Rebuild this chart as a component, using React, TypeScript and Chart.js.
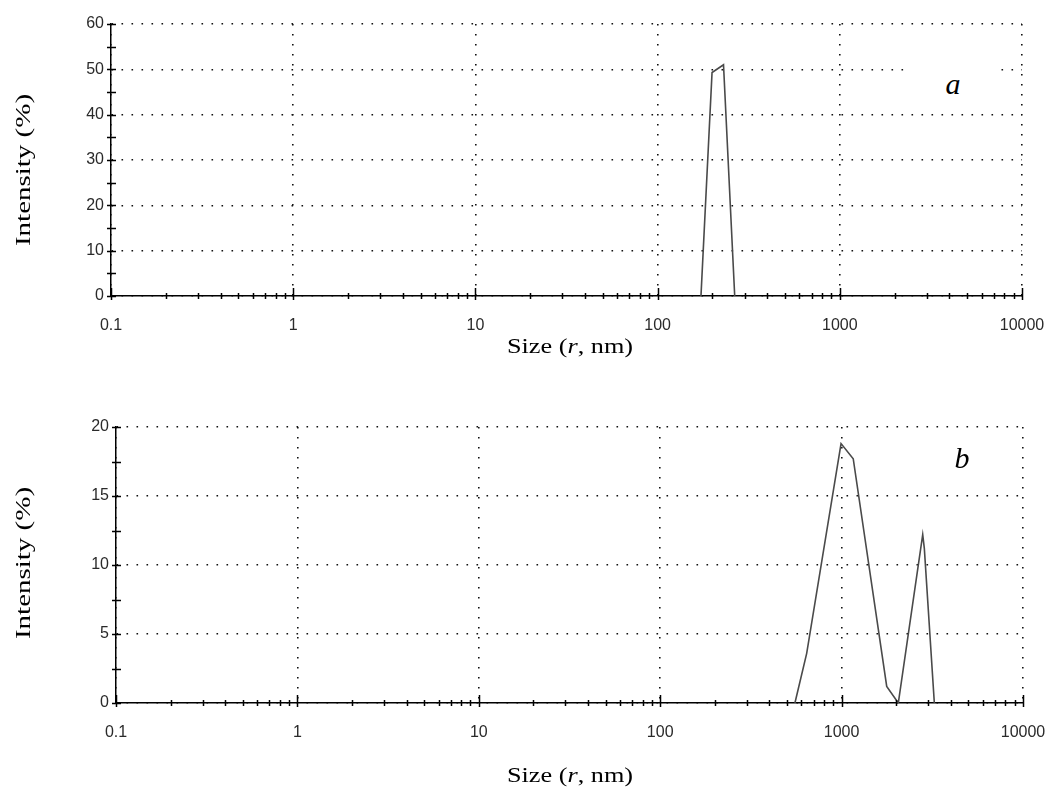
import React, { useEffect, useRef } from 'react';
import { Chart, registerables } from 'chart.js';

Chart.register(...registerables);

// ---- data ----
const sizeA = [173, 199, 230, 265];
const intensityA = [0, 49.3, 51, 0];

const sizeB = [553, 642, 993, 1159, 1773, 2054, 2800, 2858, 3245];
const intensityB = [0, 3.6, 18.8, 17.7, 1.2, 0, 12.2, 11.2, 0];

const decades = [0.1, 1, 10, 100, 1000, 10000];
const decadeLabels = ['0.1', '1', '10', '100', '1000', '10000'];
const mantissas = [1, 2, 3, 4, 5, 6, 7, 8, 9];

const yTicksA = [0, 5, 10, 15, 20, 25, 30, 35, 40, 45, 50, 55, 60];
const yLabelStepA = 10;
const yTicksB = [0, 2.5, 5, 7.5, 10, 12.5, 15, 17.5, 20];
const yLabelStepB = 5;

const xTitle = 'Size';
const yTitle = 'Intensity (%)';

// ---- helpers ----
const xTickValues: number[] = [];
decades.forEach((d, i) => {
  if (i === decades.length - 1) {
    xTickValues.push(d);
  } else {
    mantissas.forEach((m) => xTickValues.push(+(d * m).toPrecision(6)));
  }
});

const isDecade = (v: number) => {
  if (v === undefined || v === null) return false;
  const l = Math.log10(v);
  return Math.abs(l - Math.round(l)) < 1e-6;
};
const decadeLabel = (v: number) => {
  const idx = decades.findIndex((d) => Math.abs(Math.log10(d) - Math.log10(v)) < 1e-6);
  return idx >= 0 ? decadeLabels[idx] : '';
};

const tickFont = {
  family: "'Liberation Sans', Arial, sans-serif",
  size: 16,
};
const tickColor = '#2a2a2a';

const tickMarks = {
  id: 'tickMarks',
  afterDraw(chart: any) {
    const { ctx, chartArea } = chart;
    const x = chart.scales.x;
    const y = chart.scales.y;
    ctx.save();
    ctx.strokeStyle = '#000';
    ctx.lineWidth = 1.5;
    ctx.beginPath();
    x.ticks.forEach((t: any) => {
      const px = Math.round(x.getPixelForValue(t.value)) + 0.5;
      const maj = isDecade(t.value);
      ctx.moveTo(px, chartArea.bottom - (maj ? 8 : 3));
      ctx.lineTo(px, chartArea.bottom + (maj ? 4 : 3));
    });
    y.ticks.forEach((t: any) => {
      const py = Math.round(y.getPixelForValue(t.value)) + 0.5;
      ctx.moveTo(chartArea.left - 4, py);
      ctx.lineTo(chartArea.left + 5, py);
    });
    ctx.stroke();
    ctx.restore();
  },
};

type Area = { H: number; left: number; right: number; top: number; bottom: number };

function makeChart(
  canvas: HTMLCanvasElement,
  xs: number[],
  ys: number[],
  yTicks: number[],
  yLabelStep: number,
  area: Area
) {
  const yMax = yTicks[yTicks.length - 1];
  return new Chart(canvas, {
    type: 'line',
    data: {
      datasets: [
        {
          data: xs.map((x, i) => ({ x, y: ys[i] })),
          borderColor: '#4a4a4a',
          borderWidth: 1.6,
          pointRadius: 0,
          tension: 0,
          fill: false,
        },
      ],
    },
    options: {
      animation: false,
      responsive: false,
      maintainAspectRatio: false,
      layout: { padding: { top: area.top, right: 1048 - area.right, left: 0, bottom: 0 } },
      plugins: { legend: { display: false }, tooltip: { enabled: false }, title: { display: false } },
      scales: {
        x: {
          type: 'logarithmic',
          min: 0.1,
          max: 10000,
          position: 'bottom',
          afterBuildTicks: (s: any) => {
            s.ticks = xTickValues.map((v) => ({ value: v, major: isDecade(v) }));
          },
          afterFit: (s: any) => {
            s.height = area.H - area.bottom;
            s.paddingLeft = 0;
            s.paddingRight = 0;
          },
          ticks: {
            autoSkip: false,
            maxRotation: 0,
            minRotation: 0,
            padding: 20,
            color: tickColor,
            font: tickFont,
            callback: (v: any) => (isDecade(Number(v)) ? decadeLabel(Number(v)) : ''),
          },
          grid: {
            color: (ctx: any) => (ctx.tick && isDecade(ctx.tick.value) ? '#111' : 'rgba(0,0,0,0)'),
            lineWidth: 1.6,
            drawTicks: false,
          },
          border: { display: true, color: '#000', width: 1.5, dash: [1.6, 8.4] },
        },
        y: {
          type: 'linear',
          min: 0,
          max: yMax,
          afterBuildTicks: (s: any) => {
            s.ticks = yTicks.map((v) => ({ value: v }));
          },
          afterFit: (s: any) => {
            s.width = area.left;
            s.paddingTop = 0;
            s.paddingBottom = 0;
          },
          ticks: {
            autoSkip: false,
            padding: 7,
            color: tickColor,
            font: tickFont,
            callback: (v: any) => (Number(v) % yLabelStep === 0 ? String(v) : ''),
          },
          grid: {
            color: (ctx: any) =>
              ctx.tick && ctx.tick.value % yLabelStep === 0 ? '#111' : 'rgba(0,0,0,0)',
            lineWidth: 1.6,
            drawTicks: false,
          },
          border: { display: true, color: '#000', width: 1.5, dash: [1.6, 8.4] },
        },
      },
    } as any,
    plugins: [tickMarks],
  });
}

const areaA: Area = { H: 390, left: 111, right: 1022, top: 24, bottom: 296 };
const areaB: Area = { H: 397, left: 116, right: 1023, top: 37, bottom: 313 };

const serif = "'Liberation Serif', 'Times New Roman', serif";

function YTitle({ cx, cy }: { cx: number; cy: number }) {
  return (
    <div
      style={{
        position: 'absolute',
        left: cx,
        top: cy,
        transform: 'translate(-50%, -50%) rotate(-90deg) scaleX(1.38)',
        fontFamily: serif,
        fontSize: 21,
        lineHeight: 1,
        whiteSpace: 'nowrap',
        color: '#000',
      }}
    >
      {yTitle}
    </div>
  );
}

function XTitle({ cx, cy }: { cx: number; cy: number }) {
  return (
    <div
      style={{
        position: 'absolute',
        left: cx,
        top: cy,
        transform: 'translate(-50%, -50%) scaleX(1.25)',
        fontFamily: serif,
        fontSize: 21,
        lineHeight: 1,
        whiteSpace: 'nowrap',
        color: '#000',
      }}
    >
      {xTitle} (<i>r</i>, nm)
    </div>
  );
}

export default function App() {
  const refA = useRef<HTMLCanvasElement>(null);
  const refB = useRef<HTMLCanvasElement>(null);

  useEffect(() => {
    const a = makeChart(refA.current!, sizeA, intensityA, yTicksA, yLabelStepA, areaA);
    const b = makeChart(refB.current!, sizeB, intensityB, yTicksB, yLabelStepB, areaB);
    return () => {
      a.destroy();
      b.destroy();
    };
  }, []);

  return (
    <div
      style={{
        position: 'absolute',
        left: 0,
        top: 0,
        width: 1048,
        height: 787,
        background: '#fff',
        overflow: 'hidden',
      }}
    >
      <canvas
        ref={refA}
        width={1048}
        height={390}
        style={{ position: 'absolute', left: 0, top: 0, width: 1048, height: 390 }}
      />
      <canvas
        ref={refB}
        width={1048}
        height={397}
        style={{ position: 'absolute', left: 0, top: 390, width: 1048, height: 397 }}
      />
      <YTitle cx={23} cy={170} />
      <YTitle cx={23} cy={563} />
      <XTitle cx={570} cy={346} />
      <XTitle cx={570} cy={775} />
      <div
        style={{
          position: 'absolute',
          left: 911,
          top: 60,
          width: 84,
          height: 51,
          background: '#fff',
        }}
      />
      <div
        style={{
          position: 'absolute',
          left: 953,
          top: 69,
          transform: 'translateX(-50%)',
          fontFamily: serif,
          fontStyle: 'italic',
          fontSize: 30,
          lineHeight: 1,
          color: '#000',
        }}
      >
        a
      </div>
      <div
        style={{
          position: 'absolute',
          left: 962,
          top: 443,
          transform: 'translateX(-50%)',
          fontFamily: serif,
          fontStyle: 'italic',
          fontSize: 30,
          lineHeight: 1,
          color: '#000',
        }}
      >
        b
      </div>
    </div>
  );
}
